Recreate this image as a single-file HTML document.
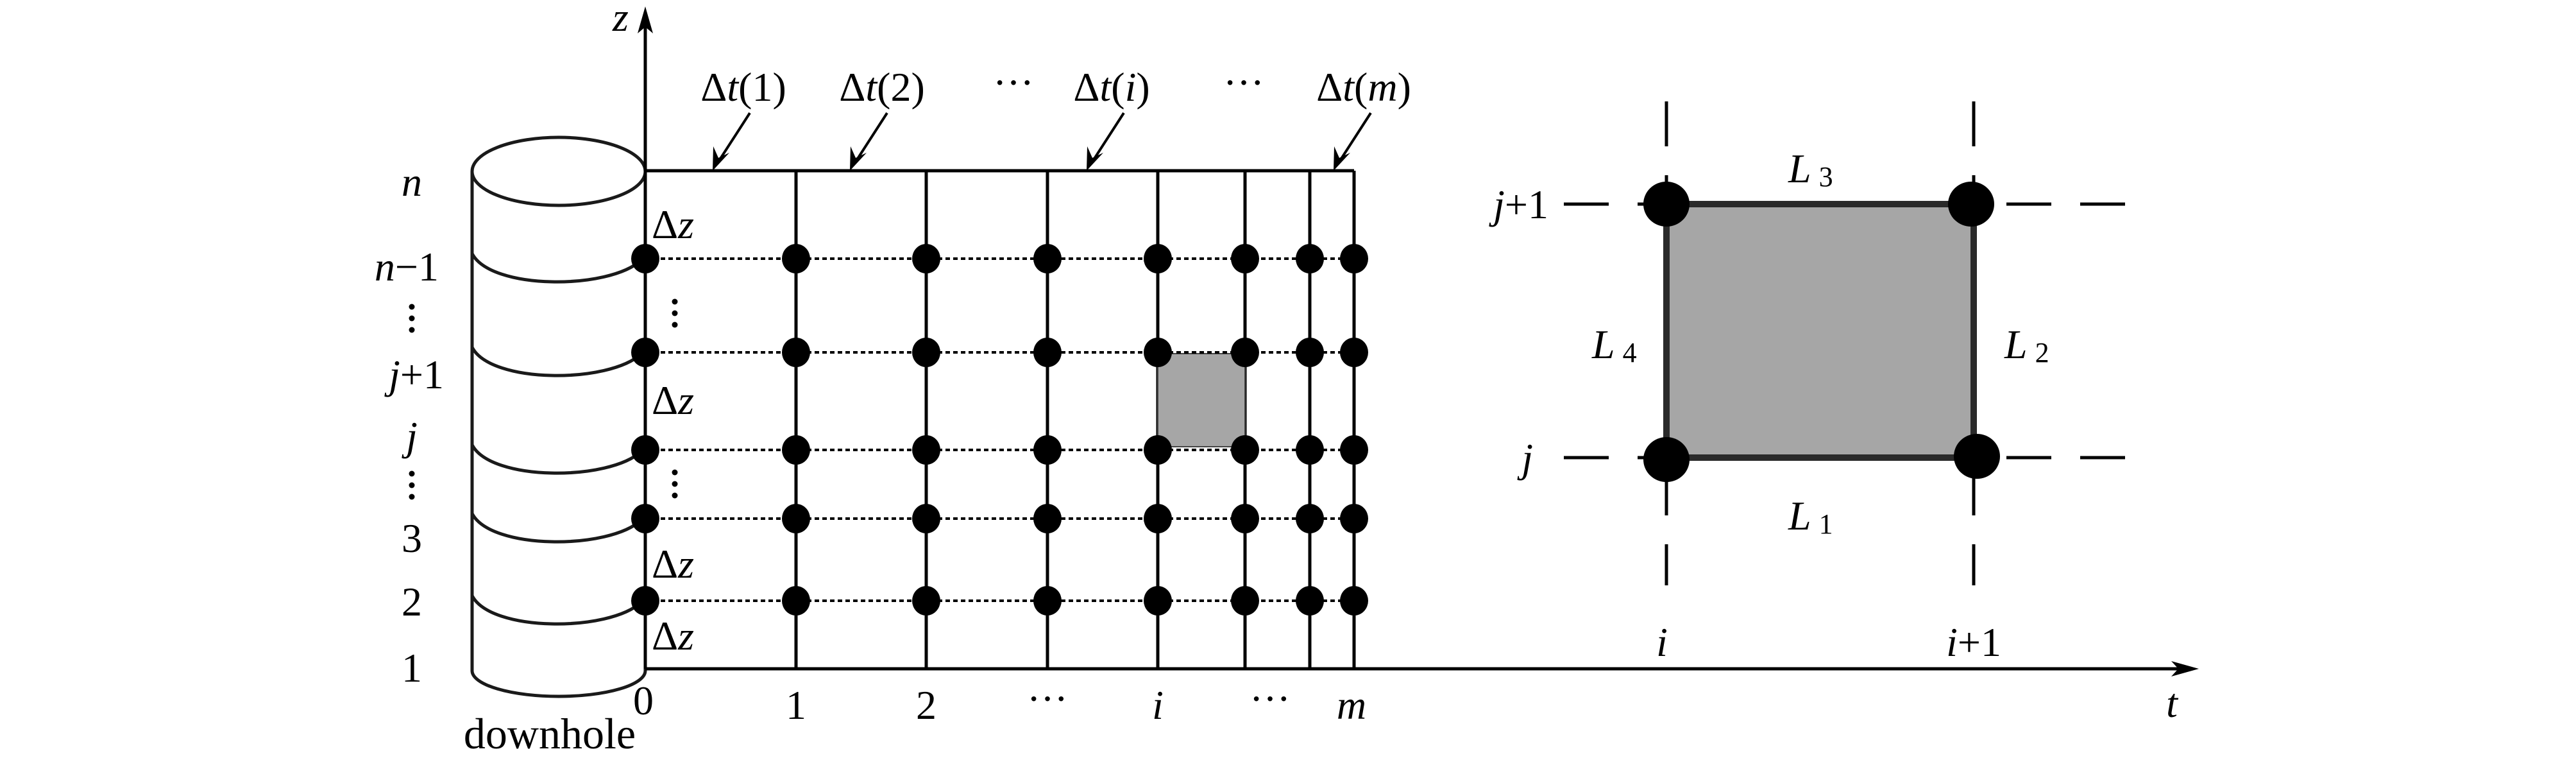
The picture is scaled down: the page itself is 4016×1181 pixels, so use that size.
<!DOCTYPE html>
<html><head><meta charset="utf-8"><style>
html,body{margin:0;padding:0;background:#fff}
svg{display:block}
text{font-family:"Liberation Serif","DejaVu Serif",serif;font-size:64px;fill:#000}
.i{font-style:italic}
</style></head><body>
<svg width="4016" height="1181" viewBox="0 0 4016 1181" xmlns="http://www.w3.org/2000/svg">
<g fill="none" stroke="#1a1a1a" stroke-width="5">
<ellipse cx="871" cy="267" rx="135" ry="53" fill="#fff"/>
<line x1="736" y1="267" x2="736" y2="1045"/>
<line x1="1006" y1="267" x2="1006" y2="1045"/>
<path d="M736,1045 A135,40 0 0 0 1006,1045"/>
<path d="M736,395 C765,452 950,452 1000,405"/>
<path d="M736,541 C765,598 950,598 1000,551"/>
<path d="M736,693 C765,750 950,750 1000,703"/>
<path d="M736,800 C765,857 950,857 1000,810"/>
<path d="M736,928 C765,985 950,985 1000,938"/>
</g>
<g stroke="#000" stroke-width="5" fill="none">
<line x1="1006" y1="1042" x2="1006" y2="40"/>
<line x1="1006" y1="266" x2="2111" y2="266"/>
<line x1="1006" y1="1042" x2="3400" y2="1042"/>
<line x1="1241" y1="266" x2="1241" y2="1042"/>
<line x1="1444" y1="266" x2="1444" y2="1042"/>
<line x1="1633" y1="266" x2="1633" y2="1042"/>
<line x1="1805" y1="266" x2="1805" y2="1042"/>
<line x1="1941" y1="266" x2="1941" y2="1042"/>
<line x1="2042" y1="266" x2="2042" y2="1042"/>
<line x1="2111" y1="266" x2="2111" y2="1042"/>
</g>
<polygon points="1006,10 994,52 1006,42 1018,52" fill="#000"/>
<polygon points="3428,1042 3385,1030 3396,1042 3385,1054" fill="#000"/>
<rect x="1805" y="551" width="136" height="145" fill="#a6a6a6" stroke="#444" stroke-width="2"/>
<g stroke="#000" stroke-width="4" stroke-dasharray="7,5">
<line x1="1006" y1="403" x2="2111" y2="403"/>
<line x1="1006" y1="549" x2="2111" y2="549"/>
<line x1="1006" y1="701" x2="2111" y2="701"/>
<line x1="1006" y1="808" x2="2111" y2="808"/>
<line x1="1006" y1="936" x2="2111" y2="936"/>
</g>
<g fill="#000">
<g id="r1">
<ellipse cx="1006" cy="403" rx="22" ry="23"/><ellipse cx="1241" cy="403" rx="22" ry="23"/><ellipse cx="1444" cy="403" rx="22" ry="23"/><ellipse cx="1633" cy="403" rx="22" ry="23"/><ellipse cx="1805" cy="403" rx="22" ry="23"/><ellipse cx="1941" cy="403" rx="22" ry="23"/><ellipse cx="2042" cy="403" rx="22" ry="23"/><ellipse cx="2111" cy="403" rx="22" ry="23"/>
</g>
<use href="#r1" y="146"/>
<use href="#r1" y="298"/>
<use href="#r1" y="405"/>
<use href="#r1" y="533"/>
<circle cx="1052" cy="470" r="4.5"/><circle cx="1052" cy="488" r="4.5"/><circle cx="1052" cy="506" r="4.5"/>
<circle cx="1052" cy="736" r="4.5"/><circle cx="1052" cy="754" r="4.5"/><circle cx="1052" cy="772" r="4.5"/>
<circle cx="642" cy="478" r="4.5"/><circle cx="642" cy="496" r="4.5"/><circle cx="642" cy="514" r="4.5"/>
<circle cx="642" cy="738" r="4.5"/><circle cx="642" cy="756" r="4.5"/><circle cx="642" cy="774" r="4.5"/>
</g>
<g stroke="#000" stroke-width="4">
<line x1="1169" y1="176" x2="1118" y2="255"/>
<line x1="1383" y1="176" x2="1332" y2="255"/>
<line x1="1752" y1="176" x2="1701" y2="255"/>
<line x1="2137" y1="176" x2="2086" y2="255"/>
</g>
<g fill="#000">
<polygon points="1111,266 1112,228 1120,246 1137,238"/>
<polygon points="1325,266 1326,228 1334,246 1351,238"/>
<polygon points="1694,266 1695,228 1703,246 1720,238"/>
<polygon points="2079,266 2080,228 2088,246 2105,238"/>
</g>
<g style="font-size:70px">
<text x="1159" y="157" text-anchor="middle">Δ<tspan class="i">t</tspan>(1)</text>
<text x="1375" y="157" text-anchor="middle">Δ<tspan class="i">t</tspan>(2)</text>
<text x="1580" y="150" text-anchor="middle">···</text>
<text x="1733" y="157" text-anchor="middle">Δ<tspan class="i">t</tspan>(<tspan class="i">i</tspan>)</text>
<text x="1939" y="150" text-anchor="middle">···</text>
<text x="2126" y="157" text-anchor="middle">Δ<tspan class="i">t</tspan>(<tspan class="i">m</tspan>)</text>
</g>
<text x="1016" y="371">Δ<tspan class="i">z</tspan></text>
<text x="1016" y="645">Δ<tspan class="i">z</tspan></text>
<text x="1016" y="900">Δ<tspan class="i">z</tspan></text>
<text x="1016" y="1012">Δ<tspan class="i">z</tspan></text>
<text x="955" y="48" class="i">z</text>

<text x="642" y="305" text-anchor="middle" class="i">n</text>
<text x="684" y="437" text-anchor="end"><tspan class="i">n</tspan>−1</text>
<text x="692" y="605" text-anchor="end"><tspan class="i">j</tspan>+1</text>
<text x="642" y="701" text-anchor="middle" class="i">j</text>
<text x="642" y="860" text-anchor="middle">3</text>
<text x="642" y="959" text-anchor="middle">2</text>
<text x="642" y="1062" text-anchor="middle">1</text>
<text x="857" y="1166" text-anchor="middle" style="font-size:68px">downhole</text>

<text x="1003" y="1113" text-anchor="middle">0</text>
<text x="1241" y="1120" text-anchor="middle">1</text>
<text x="1444" y="1120" text-anchor="middle">2</text>
<text x="1633" y="1110" text-anchor="middle">···</text>
<text x="1980" y="1110" text-anchor="middle">···</text>
<text x="1805" y="1120" text-anchor="middle" class="i">i</text>
<text x="2107" y="1120" text-anchor="middle" class="i">m</text>

<g stroke="#000" stroke-width="5" stroke-dasharray="70,45">
<line x1="2598" y1="158" x2="2598" y2="912"/>
<line x1="3077" y1="158" x2="3077" y2="912"/>
<line x1="2438" y1="318" x2="3314" y2="318"/>
<line x1="2438" y1="713" x2="3314" y2="713"/>
</g>
<rect x="2598" y="318" width="479" height="395" fill="#a6a6a6" stroke="#2a2a2a" stroke-width="10"/>
<g fill="#000">
<ellipse cx="2598" cy="318" rx="36" ry="35"/>
<ellipse cx="3073" cy="318" rx="36" ry="35"/>
<ellipse cx="2598" cy="716" rx="36" ry="35"/>
<ellipse cx="3082" cy="711" rx="36" ry="35"/>
</g>
<text x="2788" y="284" class="i">L<tspan style="font-style:normal;font-size:44px" dx="12" dy="6">3</tspan></text>
<text x="3125" y="558" class="i">L<tspan style="font-style:normal;font-size:44px" dx="12" dy="6">2</tspan></text>
<text x="2482" y="558" class="i">L<tspan style="font-style:normal;font-size:44px" dx="12" dy="6">4</tspan></text>
<text x="2788" y="825" class="i">L<tspan style="font-style:normal;font-size:44px" dx="12" dy="6">1</tspan></text>
<text x="2414" y="340" text-anchor="end"><tspan class="i">j</tspan>+1</text>
<text x="2390" y="735" text-anchor="end" class="i">j</text>
<text x="2591" y="1022" text-anchor="middle" class="i">i</text>
<text x="3077" y="1022" text-anchor="middle"><tspan class="i">i</tspan>+1</text>
<text x="3386" y="1117" text-anchor="middle" class="i">t</text>
</svg>
</body></html>
